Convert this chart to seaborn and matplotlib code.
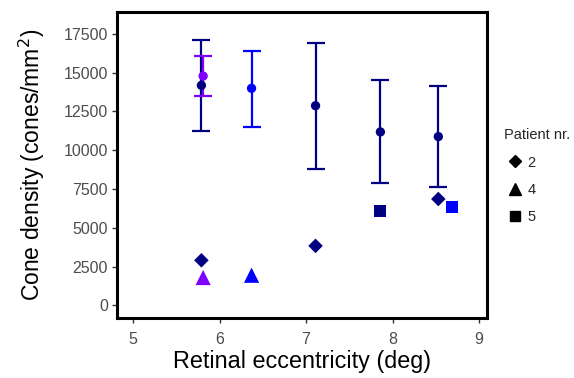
import matplotlib
matplotlib.use("Agg")
import matplotlib.pyplot as plt
from matplotlib.lines import Line2D
import seaborn as sns
import pandas as pd

# Mean cone density with error bars
mean_x = [5.79, 5.81, 6.37, 7.11, 7.86, 8.53]
mean_y = [14180, 14780, 13990, 12870, 11180, 10880]
err_lo = [11250, 13480, 11520, 8800, 7860, 7630]
err_hi = [17090, 16070, 16400, 16940, 14500, 14140]
mean_group = ["navy", "purple", "blue", "navy", "navy", "navy"]

# Individual patient values
pt_x = [5.79, 5.81, 6.37, 7.11, 7.86, 8.53, 8.69]
pt_y = [2910, 1800, 1950, 3840, 6100, 6860, 6340]
pt_patient = ["2", "4", "4", "2", "5", "2", "5"]
pt_group = ["navy", "purple", "blue", "navy", "navy", "navy", "blue"]

palette = {"navy": "#000080", "purple": "#7F00FF", "blue": "#0000FF"}
markers = {"2": "D", "4": "^", "5": "s"}
msizes = {"2": 55, "4": 120, "5": 75}

sns.set_style("white")
plt.rcParams["font.family"] = ["Liberation Sans", "DejaVu Sans"]

fig = plt.figure(figsize=(5.74, 3.78), dpi=100)
ax = fig.add_axes([0.204, 0.159, 0.644, 0.809])

means = pd.DataFrame({"x": mean_x, "y": mean_y, "lo": err_lo, "hi": err_hi, "g": mean_group})
for _, r in means.iterrows():
    ax.errorbar(r["x"], r["y"], yerr=[[r["y"] - r["lo"]], [r["hi"] - r["y"]]],
                fmt="none", ecolor=palette[r["g"]], elinewidth=1.6, capsize=6.2,
                capthick=1.6, zorder=2)
sns.scatterplot(data=means, x="x", y="y", hue="g", palette=palette, s=45,
                edgecolor="none", legend=False, ax=ax, zorder=3)

pts = pd.DataFrame({"x": pt_x, "y": pt_y, "p": pt_patient, "g": pt_group})
for p in ["2", "4", "5"]:
    sub = pts[pts["p"] == p]
    sns.scatterplot(data=sub, x="x", y="y", hue="g", palette=palette,
                    marker=markers[p], s=msizes[p], edgecolor="none",
                    legend=False, ax=ax, zorder=3)

ax.set_xlim(4.815, 9.09)
ax.set_ylim(-800, 18900)
ax.set_xticks([5, 6, 7, 8, 9])
ax.set_yticks([0, 2500, 5000, 7500, 10000, 12500, 15000, 17500])
ax.set_xlabel("Retinal eccentricity (deg)", fontsize=16.8, color="black", labelpad=2)
ax.set_ylabel("Cone density (cones/mm$^2$)", fontsize=16.5, color="black", labelpad=12)
ax.tick_params(axis="both", which="both", direction="out", length=3.5, width=1,
               color="#333333", labelcolor="#4D4D4D", labelsize=11.5, pad=3,
               bottom=True, left=True)
ax.tick_params(axis="x", pad=7)
for s in ax.spines.values():
    s.set_visible(True)
    s.set_color("black")
    s.set_linewidth(2.2)

handles = [Line2D([], [], marker=markers[p], color="black", linestyle="none",
                  markersize={"2": 6, "4": 8, "5": 6.5}[p]) for p in ["2", "4", "5"]]
leg = fig.legend(handles, ["2", "4", "5"], title="Patient nr.", loc="upper left",
                 bbox_to_anchor=(0.855, 0.695), frameon=False, fontsize=10.5,
                 title_fontsize=10.5, handletextpad=0.1, labelspacing=0.9,
                 handlelength=1.5)
leg._legend_box.align = "left"

fig.savefig("out.png", dpi=100)
